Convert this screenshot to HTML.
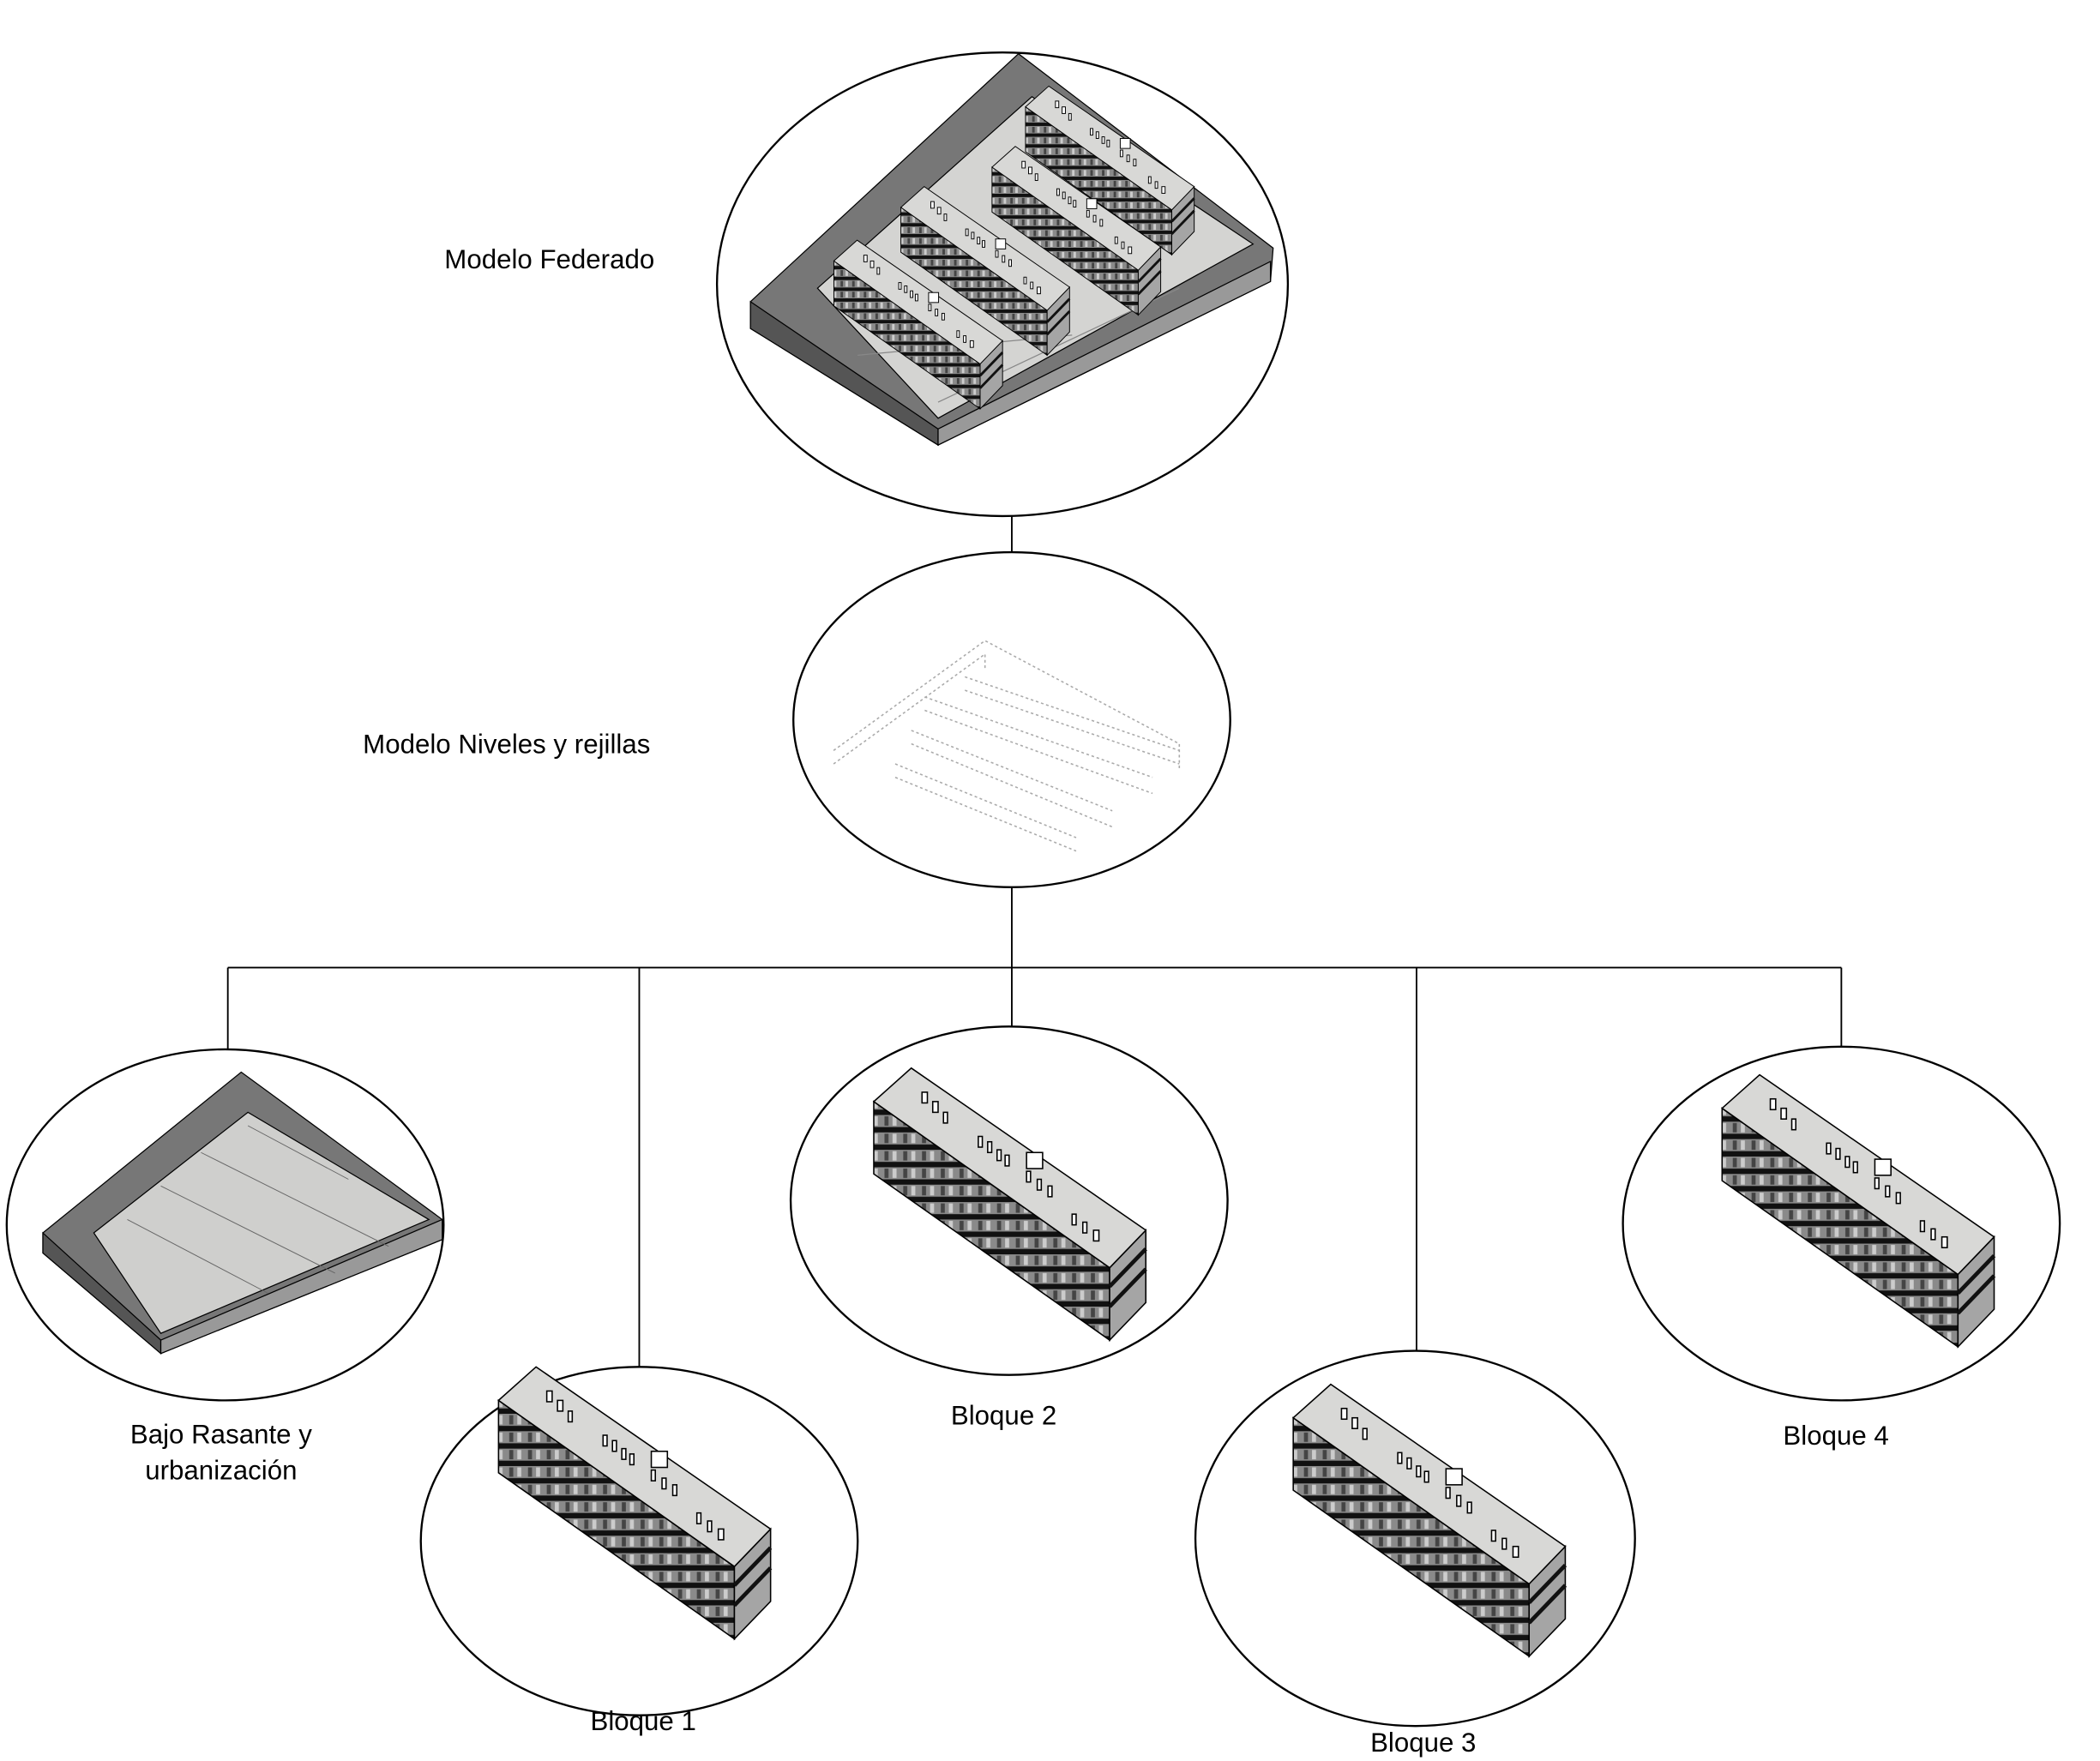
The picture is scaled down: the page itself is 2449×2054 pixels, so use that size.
<!DOCTYPE html>
<html><head><meta charset="utf-8"><style>
html,body{margin:0;padding:0;background:#fff}
svg{display:block}
text{font-family:"Liberation Sans",sans-serif;font-size:20px;fill:#000}
</style></head><body>
<svg width="2449" height="2054" viewBox="0 0 1567 1314" xmlns="http://www.w3.org/2000/svg">
<defs>
<pattern id="fac" width="14" height="13" patternUnits="userSpaceOnUse">
<rect width="14" height="13" fill="#8a8a8a"/>
<rect y="9" width="14" height="4" fill="#111"/>
<rect x="2" y="1" width="3" height="7" fill="#444"/>
<rect x="8" y="1" width="3" height="7" fill="#ccc"/>
</pattern>
<g id="blk">
<polygon points="652,822 828,946 828,1000 652,876" fill="url(#fac)" stroke="#000" stroke-width="1"/>
<polygon points="828,946 855,918 855,972 828,1000" fill="#a5a5a5" stroke="#000" stroke-width="1"/>
<line x1="828" y1="960" x2="855" y2="932" stroke="#111" stroke-width="3"/>
<line x1="828" y1="975" x2="855" y2="947" stroke="#111" stroke-width="3"/>
<polygon points="652,822 680,797 855,918 828,946" fill="#d8d8d6" stroke="#000" stroke-width="1"/>
<g fill="#fff" stroke="#000" stroke-width="1">
<rect x="688" y="815" width="4" height="8"/><rect x="696" y="822" width="4" height="8"/><rect x="704" y="830" width="3" height="8"/>
<rect x="730" y="848" width="3" height="8"/><rect x="737" y="852" width="3" height="8"/><rect x="744" y="858" width="3" height="8"/><rect x="750" y="862" width="3" height="8"/>
<rect x="766" y="860" width="12" height="12"/><rect x="766" y="874" width="3" height="8"/><rect x="774" y="880" width="3" height="8"/><rect x="782" y="885" width="3" height="8"/>
<rect x="800" y="906" width="3" height="8"/><rect x="808" y="912" width="3" height="8"/><rect x="816" y="918" width="4" height="8"/>
</g>
</g>
</defs>

<g stroke="#000" stroke-width="1.2" fill="none">
<line x1="755" y1="385" x2="755" y2="412"/>
<line x1="755" y1="662" x2="755" y2="722"/>
<line x1="170" y1="722" x2="1374" y2="722"/>
<line x1="170" y1="722" x2="170" y2="783"/>
<line x1="477" y1="722" x2="477" y2="1020"/>
<line x1="755" y1="722" x2="755" y2="766"/>
<line x1="1057" y1="722" x2="1057" y2="1010"/>
<line x1="1374" y1="722" x2="1374" y2="781"/>
</g>

<g stroke="#000" stroke-width="1.5" fill="#fff">
<ellipse cx="748" cy="212" rx="213" ry="173"/>
<ellipse cx="755" cy="537" rx="163" ry="125"/>
<ellipse cx="168" cy="914" rx="163" ry="131"/>
<ellipse cx="477" cy="1150" rx="163" ry="130"/>
<ellipse cx="753" cy="896" rx="163" ry="130"/>
<ellipse cx="1056" cy="1148" rx="164" ry="140"/>
<ellipse cx="1374" cy="913" rx="163" ry="132"/>
</g>

<g stroke="#000" stroke-width="0.8">
<polygon points="560,225 760,40 950,185 948,210 700,332 560,245" fill="#777"/>
<polygon points="610,215 770,72 935,182 700,312" fill="#d4d4d2"/>
<polygon points="560,225 700,320 700,332 560,245" fill="#555"/>
<polygon points="700,320 948,195 948,210 700,332" fill="#999"/>
</g>
<g stroke="#888" stroke-width="0.8" fill="none">
<line x1="640" y1="265" x2="800" y2="250"/><line x1="700" y1="300" x2="880" y2="215"/>
</g>
<use href="#blk" transform="translate(361,-430) scale(0.62)"/>
<use href="#blk" transform="translate(336,-385) scale(0.62)"/>
<use href="#blk" transform="translate(268,-355) scale(0.62)"/>
<use href="#blk" transform="translate(218,-315) scale(0.62)"/>

<g stroke="#aaa" stroke-width="1" stroke-dasharray="2,2" fill="none">
<polyline points="622,560 735,478 880,555 880,575"/>
<polyline points="622,570 735,488 735,500"/>
<line x1="690" y1="520" x2="860" y2="580"/><line x1="690" y1="530" x2="860" y2="592"/>
<line x1="680" y1="545" x2="830" y2="605"/><line x1="680" y1="555" x2="830" y2="617"/>
<line x1="668" y1="570" x2="803" y2="625"/><line x1="668" y1="580" x2="803" y2="635"/>
<line x1="720" y1="505" x2="880" y2="560"/><line x1="720" y1="515" x2="880" y2="570"/>
</g>

<g stroke="#000" stroke-width="0.8">
<polygon points="32,920 180,800 330,910 330,925 120,1010 32,935" fill="#777"/>
<polygon points="70,920 185,830 320,910 120,995" fill="#cfcfcd"/>
<polygon points="32,920 120,1000 120,1010 32,935" fill="#555"/>
<polygon points="120,1000 330,910 330,925 120,1010" fill="#999"/>
</g>
<g stroke="#666" stroke-width="0.6" fill="none">
<line x1="150" y1="860" x2="290" y2="930"/><line x1="120" y1="885" x2="250" y2="950"/>
<line x1="95" y1="910" x2="200" y2="965"/><line x1="185" y1="840" x2="260" y2="880"/>
</g>

<use href="#blk" transform="translate(-280,223)"/>
<use href="#blk"/>
<use href="#blk" transform="translate(313,236)"/>
<use href="#blk" transform="translate(633,5)"/>

<text x="410" y="200" text-anchor="middle">Modelo Federado</text>
<text x="378" y="562" text-anchor="middle">Modelo Niveles y rejillas</text>
<text x="165" y="1077" text-anchor="middle">Bajo Rasante y</text>
<text x="165" y="1104" text-anchor="middle">urbanización</text>
<text x="480" y="1291" text-anchor="middle">Bloque 1</text>
<text x="749" y="1063" text-anchor="middle">Bloque 2</text>
<text x="1062" y="1307" text-anchor="middle">Bloque 3</text>
<text x="1370" y="1078" text-anchor="middle">Bloque 4</text>
</svg>
</body></html>
